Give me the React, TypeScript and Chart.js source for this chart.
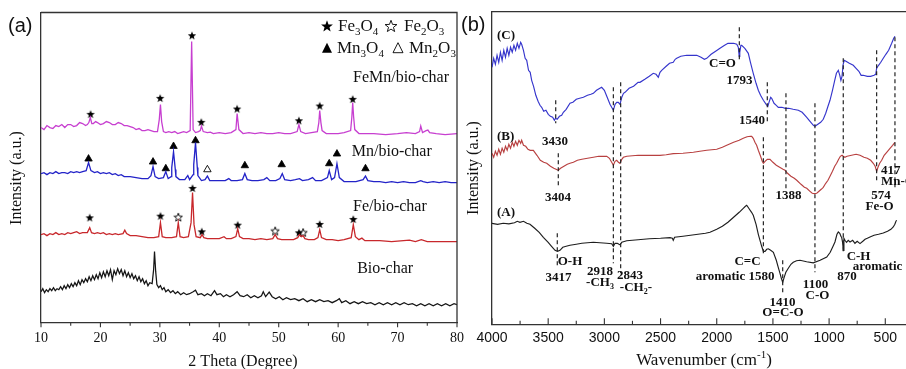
import React, { useEffect, useRef } from 'react';
import { Chart, registerables } from 'chart.js';
Chart.register(...registerables);

// ================= Panel (a): XRD patterns [2θ, intensity (stacked, a.u.)] =================
const xrdFeMn = [[10,195],[10.5,193],[11,197],[11.5,195],[12,194],[12.5,197],[13,196],[13.5,198],[14,195],[14.5,198],[15,198],[15.5,196],[16,197],[16.5,200],[17,199],[17.5,197],[17.8,198],[18.05,200],[18.3,205],[18.55,199],[18.8,199],[19.2,201],[19.5,200],[20,198],[20.5,199],[21,201],[21.5,200],[22,198],[22.5,198],[23,200],[23.5,199],[24,197],[24.5,197],[25,196],[25.5,195],[26,193],[26.5,194],[27,192],[27.5,192],[28,193],[28.5,192],[29,191],[29.6,191],[29.9,203],[30.1,218],[30.3,201],[30.6,191],[31,190],[31.5,191],[32,190],[32.5,191],[33,189],[33.5,190],[34,191],[34.5,190],[35.1,192],[35.35,281],[35.6,193],[36,190],[36.5,191],[36.8,192],[37,196.5],[37.3,191],[38,190],[38.5,190.5],[39,189],[40,190],[41,189],[42,190],[42.8,193],[43,209],[43.3,193],[44,189],[45,190],[46,189],[47,190],[48,189],[49,189],[50,190],[51,189],[52,189],[53.1,191],[53.4,198],[53.7,191],[54.5,189],[55.5,190],[56.5,191],[56.75,200],[56.9,212],[57.1,200],[57.3,192],[58,189],[59,189],[60,189],[61,190],[62.1,192],[62.3,205],[62.45,220],[62.6,206],[62.8,193],[63.5,189],[64.5,189],[66,189],[68,188],[70,189],[71.5,190],[73,189],[73.7,191],[73.9,196.5],[74.2,190],[74.8,192],[75.1,192.5],[75.4,190],[76.5,189],[78,188],[80,189]];
const xrdMn = [[10,149],[10.5,150],[11,148],[11.5,150],[12,149],[12.5,151],[13,149],[13.5,150],[14,150],[14.5,149],[15,151],[15.5,150],[16,151],[16.5,150],[17,151],[17.6,152],[18,160],[18.4,152],[19,150],[19.5,151],[20,149],[20.5,150],[21,149],[21.5,150],[22,148],[22.5,149],[23,147],[23.5,148],[24,146],[25,146],[26,145],[27,144],[28,144],[28.5,147],[28.85,156],[29.2,146],[29.8,144],[30.6,145],[31,151],[31.4,144],[31.9,146],[32,155],[32.3,171],[32.6,153],[32.7,146],[33.3,143],[34.2,143],[34.7,147],[35,143],[35.6,148],[35.7,158],[36,180],[36.3,155],[36.4,147],[37,142],[37.6,143],[38,146.5],[38.4,142],[39,142],[40,142],[41,142],[41.6,144],[42,142],[43,142],[43.9,143],[44.3,149],[44.7,143],[45.5,142],[46.5,142],[47.5,143],[48,145],[48.5,142],[49.5,142],[50.2,144],[50.6,149],[51,143],[52,142],[52.8,143],[53.5,144],[54,142],[55,143],[55.7,145],[56.2,142],[57.2,142],[58.2,145],[58.5,152],[58.9,143],[59.4,145],[59.8,159],[60.2,145],[61,141],[62,141],[63,141],[64.2,143],[64.6,146.5],[65,142],[66,141],[67,141],[68,140],[69,141],[70,140],[71,141],[72,140],[73,140],[73.9,142],[74.3,141],[75,140],[76,141],[77,140],[78,141],[79,140],[80,140]];
const xrdFe = [[10,88],[10.5,89],[11,87],[11.5,89],[12,88],[12.5,90],[13,88],[13.5,89],[14,88],[14.5,90],[15,89],[15.5,90],[16,91],[16.5,89],[17,90],[17.8,90],[18.2,95],[18.5,90],[19,89],[19.5,90],[20,89],[20.5,90],[21,88],[21.5,89],[22,88],[22.5,89],[23,88],[23.8,89],[24.1,92.5],[24.4,89],[25,87],[26,87],[27,86],[28,85],[29,85],[29.8,86],[30.1,100],[30.4,86],[31,85],[32,85],[32.8,86],[33.1,100],[33.4,86],[34,85],[34.8,86],[35.25,100],[35.5,130],[35.75,98],[36.1,86],[36.8,85],[37.1,88],[37.4,85],[38,84],[39,84],[40,84],[40.8,86],[41.2,84],[42,84],[42.8,86],[43.1,94],[43.4,86],[44,84],[45,84],[46,83],[47,84],[48,83],[49,84],[49.4,88],[49.8,84],[50.5,83],[51.5,83],[52.5,83],[53.2,85],[53.5,88],[53.8,86],[54.1,87],[54.4,84],[55,83],[56,83],[56.6,85],[56.9,93],[57.2,85],[58,83],[59,83],[60,82],[61,83],[62.2,85],[62.55,98],[62.9,86],[63.5,83],[64,84.5],[64.5,82],[65.5,82],[67,82],[69,81],[71,82],[72,82.5],[73,81],[74,83],[75,81],[77,81],[79,81],[80,81]];
const xrdBio = [[10,31],[10.3,34],[10.6,30],[10.9,33],[11.2,31],[11.5,34],[11.8,32],[12.1,35],[12.4,32],[12.7,34],[13,33],[13.3,36],[13.6,33],[13.9,37],[14.2,34],[14.5,38],[14.8,35],[15.1,39],[15.4,36],[15.7,40],[16,37],[16.3,42],[16.6,38],[16.9,43],[17.2,40],[17.5,44],[17.8,41],[18.1,46],[18.4,42],[18.7,47],[19,43],[19.3,48],[19.6,44],[19.9,50],[20.2,45],[20.5,51],[20.8,46],[21.1,52],[21.4,47],[21.7,53],[22,43],[22.3,52],[22.6,48],[22.9,54],[23.2,49],[23.5,53],[23.8,47],[24.1,52],[24.4,46],[24.7,50],[25,45],[25.3,49],[25.6,44],[25.9,47],[26.2,42],[26.5,46],[26.8,41],[27.1,44],[27.4,39],[27.7,42],[28,37],[28.3,40],[28.7,39],[28.95,53],[29.1,71],[29.3,51],[29.5,38],[29.8,35],[30.1,37],[30.4,33],[30.7,35],[31,31],[31.4,33],[31.8,30],[32.2,32],[32.6,29],[33,31],[33.5,28],[34,30],[34.5,28],[35,29],[35.6,31],[36,32.5],[36.4,28],[37,29],[37.5,27],[38,29],[38.6,27],[39.2,32],[39.6,28],[40.2,29],[40.7,26],[41.2,28],[41.8,26],[42.4,28],[43,31],[43.5,27],[44.1,26],[44.7,28],[45.3,25],[45.9,27],[46.5,25],[47.1,27],[47.4,31],[47.8,26],[48.4,30.5],[48.9,26],[49.5,24],[50.1,26],[50.7,23],[51.3,25],[52,23],[52.7,24],[53.4,22],[54.1,24],[54.8,21],[55.5,23],[56.2,21],[56.9,23],[57.6,21],[58.3,22],[59,20],[59.7,22],[60.2,24],[60.6,20],[61.3,22],[62,19],[62.7,21],[63.4,19],[64.1,21],[64.8,19],[65.5,20],[66.2,18],[66.9,20],[67.6,18],[68.3,20],[69,18],[69.7,20],[70.4,18],[71.1,20],[71.8,18],[72.5,19],[73.2,17],[73.9,19],[74.6,17],[75.3,19],[76,17],[76.7,19],[77.4,17],[78.1,19],[78.8,17],[79.5,19],[80,18]];

// phase markers [2θ, marker height]
const fe3o4Marks = [[18.35,208.7],[30.05,224.7],[35.4,287.3],[36.97,200.7],[43.0,214],[53.4,202.3],[56.9,217],[62.45,223.7],[18.2,105.3],[30.1,107],[35.5,134.7],[37.05,91.3],[43.1,98],[53.4,90.3],[56.9,98.7],[62.55,103.7]];
const fe2o3Marks = [[33.1,105.7],[49.4,92],[54.1,90.3]];
const mn3o4Marks = [[18.0,163.7],[28.85,160.7],[31.0,154],[32.3,176.3],[36.0,182],[44.3,157],[50.5,158],[58.5,159],[59.8,168.7],[64.6,154]];
const mn2o3Marks = [[38.0,153]];

const xrdTicks = [10, 20, 30, 40, 50, 60, 70, 80];
const xrdNames = ['FeMn/bio-char', 'Mn/bio-char', 'Fe/bio-char', 'Bio-char'];
const xrdNameAt = [[62.5, 245], [62.3, 170.3], [62.5, 116.3], [63.2, 54]];

// ================= Panel (b): FTIR spectra [wavenumber, transmittance (stacked, a.u.)] =================
const ftirC = [[4000,257],[3985,266],[3970,260],[3955,269],[3940,262],[3925,272],[3910,264],[3895,274],[3880,267],[3865,276],[3850,269],[3835,277],[3820,272],[3805,279],[3790,274],[3775,281],[3760,276],[3745,282],[3736,280],[3720,274],[3705,266],[3691,264],[3675,254],[3660,252],[3647,244],[3630,238],[3610,229],[3590,223],[3573,219],[3558,217],[3540,213],[3520,214],[3499,210],[3480,208],[3460,207],[3445,204],[3435,206],[3420,205],[3400,208],[3380,209],[3365,212],[3340,215],[3306,221],[3280,222],[3250,225],[3220,226],[3187,227],[3150,229],[3120,230],[3098,231],[3070,234],[3040,236],[3024,237],[3000,234],[2975,227],[2950,220],[2930,216],[2920,214],[2905,220],[2890,222],[2876,222],[2861,220],[2845,227],[2830,231],[2816,232],[2780,236],[2740,238],[2700,242],[2683,242],[2640,245],[2600,248],[2565,251],[2540,250],[2520,247],[2505,252],[2490,254],[2450,258],[2420,261],[2387,262],[2370,265],[2356,266],[2320,268],[2267,269],[2220,269],[2178,269],[2140,267],[2110,265],[2089,266],[2050,270],[2010,273],[1971,276],[1930,279],[1900,281],[1882,281],[1850,281],[1822,280],[1808,277],[1800,268],[1795,272],[1785,279],[1778,279],[1750,276],[1719,271],[1700,262],[1675,251],[1650,241],[1630,234],[1610,229],[1585,224],[1560,220],[1545,218],[1535,222],[1520,227],[1511,226],[1490,221],[1470,219],[1452,217],[1420,217],[1390,216],[1360,216],[1320,215],[1274,214],[1240,212],[1199,207],[1170,203],[1140,199],[1126,198],[1100,200],[1075,202],[1052,205],[1030,211],[1010,218],[992,224],[970,234],[950,244],[935,251],[918,254],[905,249],[895,244],[885,248],[875,260],[865,264],[850,263],[820,261],[785,259],[760,256],[735,253],[715,249],[696,249],[660,248],[630,248],[600,249],[585,250],[577,256],[560,259],[540,262],[518,266],[495,270],[470,274],[443,281],[425,286],[414,288]];
const ftirB = [[4000,171],[3985,167],[3970,173],[3955,169],[3940,175],[3925,170],[3910,176],[3895,172],[3880,178],[3865,174],[3850,180],[3835,176],[3820,182],[3805,178],[3790,183],[3775,179],[3760,184],[3745,181],[3736,184],[3720,179],[3700,178],[3680,175],[3660,174],[3632,174],[3600,169],[3570,164],[3540,162],[3513,161],[3480,158],[3450,156],[3430,155],[3410,154],[3390,156],[3360,158],[3330,160],[3306,161],[3276,162],[3240,164],[3200,165],[3150,166],[3098,167],[3050,168],[3000,168],[2979,168],[2955,166],[2935,162],[2920,159],[2905,163],[2890,164],[2875,162],[2861,161],[2845,165],[2831,167],[2800,168],[2750,168.5],[2700,169],[2650,169],[2600,169],[2550,169],[2505,169],[2450,169.5],[2387,170.7],[2300,171],[2208,172],[2150,173],[2089,174],[2000,175],[1950,177],[1911,179],[1850,182],[1800,184],[1764,186],[1730,187.5],[1700,188],[1689,188],[1675,186],[1660,182],[1645,179],[1630,174],[1610,168],[1595,163],[1585,161],[1570,163],[1550,165],[1526,165],[1500,162],[1470,159],[1440,157],[1410,155],[1392,154],[1370,151],[1340,148],[1310,146],[1288,144],[1250,140],[1220,137],[1199,136],[1170,133],[1150,131],[1130,130.7],[1110,131],[1090,133],[1070,135],[1052,137],[1030,141],[1010,144],[992,148],[970,153],[950,158],[933,161],[915,165],[900,168],[885,169],[874,168],[860,167],[840,168],[800,169],[760,170],[725,169],[690,167],[660,166],[630,164],[607,161],[590,158],[577,153],[565,157],[550,161],[532,164],[510,169],[480,173],[458,176],[435,179],[414,182]];
const ftirA = [[4000,101],[3950,100],[3900,101],[3850,100.5],[3800,101.5],[3775,103],[3751,102],[3720,103],[3690,101],[3662,100],[3620,96],[3580,92],[3543,87],[3500,82],[3470,78],[3439,74],[3417,73],[3395,74],[3370,77],[3340,78],[3306,79],[3250,80],[3200,81],[3150,81.5],[3098,82],[3040,81.5],[2980,81],[2935,80.5],[2920,78],[2905,81],[2885,81],[2870,80],[2861,79.5],[2845,82],[2801,83.5],[2700,84.5],[2600,85.5],[2500,86],[2416,86.7],[2395,86],[2387,84],[2375,87],[2300,88],[2200,89.5],[2100,91],[2060,92],[2000,95],[1950,98],[1900,102],[1850,107],[1800,112],[1764,116],[1745,118],[1733,119],[1715,116],[1690,112],[1675,109],[1650,100],[1630,90],[1615,84],[1600,78],[1585,73],[1570,73],[1555,75],[1541,75.5],[1520,74],[1496,72],[1470,64],[1450,56],[1437,51],[1425,46],[1413,42],[1400,47],[1385,52],[1363,56],[1340,60],[1319,62],[1290,63.5],[1259,64],[1200,62.5],[1141,61.5],[1080,64],[1021,67.3],[990,72],[965,78],[948,82.3],[930,90],[918,92.3],[905,91],[895,88],[888,87],[880,82],[874,74],[868,86],[859,84],[845,82],[830,84],[814,82.3],[790,84],[770,81],[750,83],[725,80.7],[700,83],[680,85],[660,86],[636,87.3],[600,89],[560,90],[518,91.3],[480,93],[450,95],[429,97.3],[415,100],[405,103],[399,104]];

// band guide lines [wavenumber, top, bottom]
const ftirGuides = [[3433,224,201],[3410,171,136],[3419,91,59],[2920,237,61],[2855,242,51],[1799,297,262],[1550,242,201],[1585,187,69],[1384,231,134],[1413,64,31],[1126,221,52],[874,266,72],[577,274,141],[414,287,137]];
const ftirTicks = [4000, 3500, 3000, 2500, 2000, 1500, 1000, 500];

// band annotations: text parts, wavenumber, height, alignment
const ftirNotes: any[] = [
  [[['3430','n']], 3439, 182.3, 'center'],
  [[['3404','n']], 3413, 126.7, 'center'],
  [[['O-H','n']], 3306, 63, 'center'],
  [[['3417','n']], 3408, 46.7, 'center'],
  [[['2918','n']], 3039, 52.3, 'center'],
  [[['-CH','n'],['3','sub']], 3039, 42, 'center'],
  [[['2843','n']], 2772, 48.3, 'center'],
  [[['-CH','n'],['2','sub'],['-','n']], 2719, 37, 'center'],
  [[['C=O','n']], 1949, 260.7, 'center'],
  [[['1793','n']], 1797, 244, 'center'],
  [[['1540','n']], 1686, 204, 'center'],
  [[['C=C','n']], 1726, 63, 'center'],
  [[['aromatic 1580','n']], 1837, 47.3, 'center'],
  [[['1388','n']], 1361, 129, 'center'],
  [[['1410','n']], 1415, 21.3, 'center'],
  [[['O=C-O','n']], 1410, 11.3, 'center'],
  [[['1100','n']], 1121, 40, 'center'],
  [[['C-O','n']], 1103, 29, 'center'],
  [[['870','n']], 841, 47.3, 'center'],
  [[['C-H','n']], 738, 68, 'center'],
  [[['aromatic','n']], 569, 58, 'center'],
  [[['574','n']], 538, 129, 'center'],
  [[['Fe-O','n']], 551, 117.3, 'center'],
  [[['417','n']], 538, 154, 'left'],
  [[['Mn-O','n']], 538, 142.3, 'left'],
  [[['(C)','n']], 3956, 289, 'left'],
  [[['(B)','n']], 3956, 187.3, 'left'],
  [[['(A)','n']], 3956, 111.7, 'left'],
];

const SERIF = '"Times New Roman", "Liberation Serif", "DejaVu Serif", serif';
const SANS = 'Arial, "Liberation Sans", "DejaVu Sans", sans-serif';

function drawRich(ctx: CanvasRenderingContext2D, parts: string[][], x: number, y: number, align: string, size: number, bold = false, family = SERIF) {
  const w = bold ? 'bold ' : '';
  const main = `${w}${size}px ${family}`;
  const small = `${w}${Math.round(size * 0.64)}px ${family}`;
  let total = 0;
  const widths = parts.map(([t, k]) => { ctx.font = k === 'n' ? main : small; const m = ctx.measureText(t).width; total += m; return m; });
  let cx = align === 'center' ? x - total / 2 : align === 'right' ? x - total : x;
  ctx.textAlign = 'left';
  ctx.textBaseline = 'middle';
  parts.forEach(([t, k], i) => {
    ctx.font = k === 'n' ? main : small;
    const dy = k === 'sub' ? size * 0.32 : k === 'sup' ? -size * 0.36 : 0;
    ctx.fillText(t, cx, y + dy);
    cx += widths[i];
  });
}

function starPath(g: CanvasRenderingContext2D, cx: number, cy: number, R: number) {
  g.beginPath();
  for (let i = 0; i < 10; i++) {
    const r = i % 2 === 0 ? R : R * 0.42;
    const a = -Math.PI / 2 + (i * Math.PI) / 5;
    const px = cx + r * Math.cos(a), py = cy + r * Math.sin(a);
    if (i === 0) g.moveTo(px, py); else g.lineTo(px, py);
  }
  g.closePath();
}
function drawStar(g: CanvasRenderingContext2D, cx: number, cy: number, R: number, filled: boolean) {
  starPath(g, cx, cy, R);
  if (filled) { g.fillStyle = '#000'; g.fill(); }
  else { g.fillStyle = '#fff'; g.fill(); g.strokeStyle = '#000'; g.lineWidth = 0.9; g.stroke(); }
}
function drawTri(g: CanvasRenderingContext2D, cx: number, cy: number, s: number, filled: boolean) {
  g.beginPath();
  g.moveTo(cx, cy - s * 0.58);
  g.lineTo(cx + s / 2, cy + s * 0.42);
  g.lineTo(cx - s / 2, cy + s * 0.42);
  g.closePath();
  if (filled) { g.fillStyle = '#000'; g.fill(); }
  else { g.fillStyle = '#fff'; g.fill(); g.strokeStyle = '#000'; g.lineWidth = 0.9; g.stroke(); }
}
function makeStarImg(size: number, filled: boolean) {
  const c = document.createElement('canvas');
  c.width = size; c.height = size;
  const g = c.getContext('2d')!;
  drawStar(g, size / 2, size / 2 + 0.6, size / 2 - 0.6, filled);
  return c;
}

const pts = (arr: number[][]) => arr.map(([x, y]) => ({ x, y }));
const lineDs = (arr: number[][], color: string, width = 1) => ({
  type: 'line' as const, data: pts(arr), borderColor: color, borderWidth: width,
  pointRadius: 0, tension: 0, fill: false,
});

const xrdDecor = {
  id: 'xrdDecor',
  afterDraw(chart: any) {
    const { ctx, chartArea: ca, scales: { x, y } } = chart;
    ctx.save();
    ctx.strokeStyle = '#333';
    ctx.lineWidth = 1.3;
    ctx.beginPath();
    ctx.moveTo(ca.left, ca.top); ctx.lineTo(ca.right, ca.top); ctx.lineTo(ca.right, ca.bottom);
    ctx.stroke();
    ctx.lineWidth = 1.1;
    for (let v = 10; v <= 80; v += 5) {
      const px = x.getPixelForValue(v);
      const len = v % 10 === 0 ? 4.5 : 3;
      ctx.beginPath(); ctx.moveTo(px, ca.bottom); ctx.lineTo(px, ca.bottom + len); ctx.stroke();
    }
    ctx.fillStyle = '#111';
    xrdNames.forEach((n, i) => {
      drawRich(ctx, [[n, 'n']], x.getPixelForValue(xrdNameAt[i][0]), y.getPixelForValue(xrdNameAt[i][1]), 'left', 16);
    });
    // legend
    drawStar(ctx, 327, 26.5, 6.2, true);
    ctx.fillStyle = '#111';
    drawRich(ctx, [['Fe', 'n'], ['3', 'sub'], ['O', 'n'], ['4', 'sub']], 338, 26.5, 'left', 17);
    drawStar(ctx, 391, 26.5, 6.2, false);
    ctx.fillStyle = '#111';
    drawRich(ctx, [['Fe', 'n'], ['2', 'sub'], ['O', 'n'], ['3', 'sub']], 404, 26.5, 'left', 17);
    drawTri(ctx, 327, 48.5, 10, true);
    ctx.fillStyle = '#111';
    drawRich(ctx, [['Mn', 'n'], ['3', 'sub'], ['O', 'n'], ['4', 'sub']], 337, 48.5, 'left', 17);
    drawTri(ctx, 398, 48.5, 10, false);
    ctx.fillStyle = '#111';
    drawRich(ctx, [['Mn', 'n'], ['2', 'sub'], ['O', 'n'], ['3', 'sub']], 409, 48.5, 'left', 17);
    // titles
    drawRich(ctx, [['2 Theta (Degree)', 'n']], (ca.left + ca.right) / 2 - 6, 362, 'center', 16);
    drawRich(ctx, [['(a)', 'n']], 8, 26, 'left', 20, false, SANS);
    ctx.translate(17, 178);
    ctx.rotate(-Math.PI / 2);
    drawRich(ctx, [['Intensity (a.u.)', 'n']], 0, 0, 'center', 16);
    ctx.restore();
  },
};

const ftirDecor = {
  id: 'ftirDecor',
  afterDraw(chart: any) {
    const { ctx, chartArea: ca, scales: { x, y } } = chart;
    ctx.save();
    ctx.strokeStyle = '#333';
    ctx.lineWidth = 1.3;
    ctx.beginPath(); ctx.moveTo(ca.left, ca.top); ctx.lineTo(chart.width, ca.top); ctx.stroke();
    ctx.lineWidth = 1.1;
    for (let v = 4000; v >= 250; v -= 250) {
      const px = x.getPixelForValue(v);
      const len = v % 500 === 0 ? 6 : 3.5;
      ctx.beginPath(); ctx.moveTo(px, ca.bottom); ctx.lineTo(px, ca.bottom - len); ctx.stroke();
    }
    ctx.fillStyle = '#111';
    ftirNotes.forEach(([parts, wn, v, al]) => {
      drawRich(ctx, parts, x.getPixelForValue(wn), y.getPixelForValue(v), al, 13, true);
    });
    drawRich(ctx, [['Wavenumber (cm', 'n'], ['-1', 'sup'], [')', 'n']], 244, 361, 'center', 17);
    drawRich(ctx, [['(b)', 'n']], 1, 25, 'left', 20, false, SANS);
    ctx.translate(14, 168);
    ctx.rotate(-Math.PI / 2);
    drawRich(ctx, [['Intensity (a.u.)', 'n']], 0, 0, 'center', 16);
    ctx.restore();
  },
};

const noEdgePad = (s: any) => { s.paddingLeft = 0; s.paddingRight = 0; };

export default function App() {
  const refA = useRef<HTMLCanvasElement>(null);
  const refB = useRef<HTMLCanvasElement>(null);
  useEffect(() => {
    const starF = makeStarImg(10, true);
    const starH = makeStarImg(10, false);
    const a = new Chart(refA.current!, {
      type: 'line',
      data: {
        datasets: [
          lineDs(xrdBio, '#151515', 1.25),
          lineDs(xrdFe, '#c8282c', 1.3),
          lineDs(xrdMn, '#2323c8', 1.3),
          lineDs(xrdFeMn, '#c73fd0', 1.3),
          { type: 'scatter', data: pts(fe3o4Marks), pointStyle: starF, pointRadius: 5, showLine: false } as any,
          { type: 'scatter', data: pts(fe2o3Marks), pointStyle: starH, pointRadius: 5, showLine: false } as any,
          { type: 'scatter', data: pts(mn3o4Marks), pointStyle: 'triangle', pointRadius: 4.3, backgroundColor: '#000', borderColor: '#000', borderWidth: 0.8, showLine: false } as any,
          { type: 'scatter', data: pts(mn2o3Marks), pointStyle: 'triangle', pointRadius: 4.3, backgroundColor: '#fff', borderColor: '#000', borderWidth: 0.9, showLine: false } as any,
        ],
      },
      options: {
        animation: false, responsive: false, devicePixelRatio: 1, events: [],
        layout: { autoPadding: false, padding: { top: 12.5, right: 13, bottom: 0, left: 0 } },
        plugins: { legend: { display: false }, tooltip: { enabled: false } },
        scales: {
          x: {
            type: 'linear', min: 10, max: 80,
            afterBuildTicks: (s: any) => { s.ticks = xrdTicks.map((v) => ({ value: v })); },
            afterFit: (s: any) => { s.height = 46.3; noEdgePad(s); },
            grid: { display: false, drawTicks: false },
            border: { display: true, color: '#333', width: 1.3 },
            ticks: { color: '#111', font: { family: SERIF, size: 14 }, padding: 7, maxRotation: 0, autoSkip: false, callback: (v: any) => String(v) },
          },
          y: {
            type: 'linear', min: 0, max: 310,
            afterFit: (s: any) => { s.width = 41; },
            grid: { display: false, drawTicks: false },
            border: { display: true, color: '#333', width: 1.3 },
            ticks: { display: false },
          },
        },
      } as any,
      plugins: [xrdDecor],
    });
    const guides = ftirGuides.map(([wn, t, b]) => ({
      type: 'line' as const, data: [{ x: wn, y: t }, { x: wn, y: b }], borderColor: '#222', borderWidth: 1.2,
      borderDash: [4, 3], pointRadius: 0, fill: false,
    }));
    const b = new Chart(refB.current!, {
      type: 'line',
      data: {
        datasets: [
          ...guides,
          lineDs(ftirA, '#1e1e1e', 1.15),
          lineDs(ftirB, '#b84040', 1.15),
          lineDs(ftirC, '#3535cc', 1.15),
        ],
      },
      options: {
        animation: false, responsive: false, devicePixelRatio: 1, events: [],
        layout: { autoPadding: false, padding: { top: 11.7, right: 1, bottom: 0, left: 0 } },
        plugins: { legend: { display: false }, tooltip: { enabled: false } },
        scales: {
          x: {
            type: 'linear', min: 200, max: 4000, reverse: true,
            afterBuildTicks: (s: any) => { s.ticks = ftirTicks.map((v) => ({ value: v })); },
            afterFit: (s: any) => { s.height = 44.7; noEdgePad(s); },
            grid: { display: false, drawTicks: false },
            border: { display: true, color: '#333', width: 1.3 },
            ticks: { color: '#111', font: { family: SANS, size: 14 }, padding: 5.5, maxRotation: 0, autoSkip: false, callback: (v: any) => String(v) },
          },
          y: {
            type: 'linear', min: 0, max: 312.6,
            afterFit: (s: any) => { s.width = 32; },
            grid: { display: false, drawTicks: false },
            border: { display: true, color: '#333', width: 1.3 },
            ticks: { display: false },
          },
        },
      } as any,
      plugins: [ftirDecor],
    });
    return () => { a.destroy(); b.destroy(); };
  }, []);
  return (
    <div style={{ position: 'absolute', left: 0, top: 0, width: 906, height: 369, overflow: 'hidden', background: '#fff' }}>
      <canvas ref={refA} width={470} height={369} style={{ position: 'absolute', left: 0, top: 0, width: 470, height: 369 }} />
      <canvas ref={refB} width={460} height={369} style={{ position: 'absolute', left: 460, top: 0, width: 460, height: 369 }} />
    </div>
  );
}
